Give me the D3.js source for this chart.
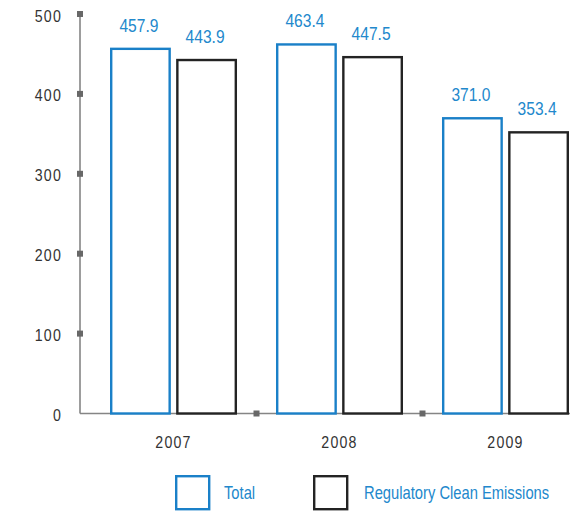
<!DOCTYPE html>
<html>
<head>
<meta charset="utf-8">
<script src="https://cdn.jsdelivr.net/npm/d3@7"></script>
<style>
  html, body { margin: 0; padding: 0; background: #fff; }
  svg { display: block; }
  text { font-family: "Liberation Sans", Arial, sans-serif; }
</style>
</head>
<body>
<svg id="chart" width="572" height="512"></svg>
<script>
// Emissions by year: total vs. regulatory clean emissions
const years = ["2007", "2008", "2009"];
const seriesNames = ["Total", "Regulatory Clean Emissions"];
const totalValues = [457.9, 463.4, 371.0];
const cleanValues = [443.9, 447.5, 353.4];
const yTicks = [0, 100, 200, 300, 400, 500];

const colors = { "Total": "#1a80c8", "Regulatory Clean Emissions": "#232323" };
const labelColor = "#2288cc";
const axisColor = "#858585";
const markColor = "#686868";

// condensed look: horizontally squeezed text
const narrow = 0.82;
const place = (x, yy, sx) => `translate(${x},${yy}) scale(${sx},1)`;

const svg = d3.select("#chart");

const y = d3.scaleLinear().domain([0, 500]).range([413.5, 14]);

const x0 = d3.scaleBand()
  .domain(years)
  .range([90.5, 588.5])
  .paddingInner(0.2349)
  .paddingOuter(0.1175);

const x1 = d3.scaleBand()
  .domain(seriesNames)
  .range([0, x0.bandwidth()])
  .paddingInner(0.08);

const rows = years.map((yr, i) => ({
  year: yr,
  values: [
    { key: "Total", value: totalValues[i] },
    { key: "Regulatory Clean Emissions", value: cleanValues[i] }
  ]
}));

// Axes
const axisX0 = 80;
const axisRight = 570;
svg.append("line")
  .attr("x1", axisX0).attr("x2", axisX0)
  .attr("y1", y(500)).attr("y2", y(0))
  .attr("stroke", axisColor).attr("stroke-width", 1.6);

svg.append("line")
  .attr("x1", axisX0).attr("x2", axisRight)
  .attr("y1", y(0)).attr("y2", y(0))
  .attr("stroke", axisColor).attr("stroke-width", 1.6);

// Y tick markers and labels
const yAxisG = svg.append("g");
yAxisG.selectAll("rect.ytick")
  .data(yTicks.filter(t => t > 0))
  .join("rect")
  .attr("class", "ytick")
  .attr("x", axisX0 - 3).attr("y", d => y(d) - 3)
  .attr("width", 6).attr("height", 6)
  .attr("fill", markColor);

yAxisG.selectAll("text")
  .data(yTicks)
  .join("text")
  .attr("transform", d => place(62, y(d) + 7.5, 0.86))
  .attr("text-anchor", "end")
  .attr("font-size", 16.5)
  .attr("letter-spacing", 1.4)
  .attr("fill", "#333")
  .text(d => d);

// Separator markers between year groups on the x axis
const seps = years.slice(1).map(yr => x0(yr) - x0.step() * x0.paddingInner() / 2);
svg.selectAll("rect.xsep")
  .data(seps)
  .join("rect")
  .attr("class", "xsep")
  .attr("x", d => d - 3).attr("y", y(0) - 3)
  .attr("width", 6).attr("height", 6)
  .attr("fill", markColor);

// Year labels
svg.selectAll("text.year")
  .data(years)
  .join("text")
  .attr("class", "year")
  .attr("transform", d => place(x0(d) + x0.bandwidth() / 2, 448, 0.86))
  .attr("text-anchor", "middle")
  .attr("font-size", 16.5)
  .attr("letter-spacing", 1.4)
  .attr("fill", "#333")
  .text(d => d);

// Bars
const sw = 2.4;
const groups = svg.selectAll("g.group")
  .data(rows)
  .join("g")
  .attr("class", "group")
  .attr("transform", d => `translate(${x0(d.year)},0)`);

groups.selectAll("rect.bar")
  .data(d => d.values)
  .join("rect")
  .attr("class", "bar")
  .attr("x", d => x1(d.key) + sw / 2)
  .attr("y", d => y(d.value) + sw / 2)
  .attr("width", x1.bandwidth() - sw)
  .attr("height", d => y(0) - y(d.value) - sw / 2)
  .attr("fill", "#fff")
  .attr("stroke", d => colors[d.key])
  .attr("stroke-width", sw);

groups.selectAll("text.val")
  .data(d => d.values)
  .join("text")
  .attr("class", "val")
  .attr("transform", d => place(x1(d.key) + x1.bandwidth() / 2 - 1.5, y(d.value) - 16, narrow))
  .attr("text-anchor", "middle")
  .attr("font-size", 19)
  .attr("fill", labelColor)
  .text(d => d.value.toFixed(1));

// Legend
const legendItems = [
  { key: "Total", x: 175, tx: 224 },
  { key: "Regulatory Clean Emissions", x: 313, tx: 364 }
];
const legend = svg.append("g");
legend.selectAll("rect")
  .data(legendItems)
  .join("rect")
  .attr("x", d => d.x + 1.2).attr("y", 476.2)
  .attr("width", 33).attr("height", 33)
  .attr("fill", "#fff")
  .attr("stroke", d => colors[d.key])
  .attr("stroke-width", sw);

legend.selectAll("text")
  .data(legendItems)
  .join("text")
  .attr("transform", d => place(d.tx, 499, narrow))
  .attr("font-size", 18)
  .attr("fill", labelColor)
  .text(d => d.key);
</script>
</body>
</html>
